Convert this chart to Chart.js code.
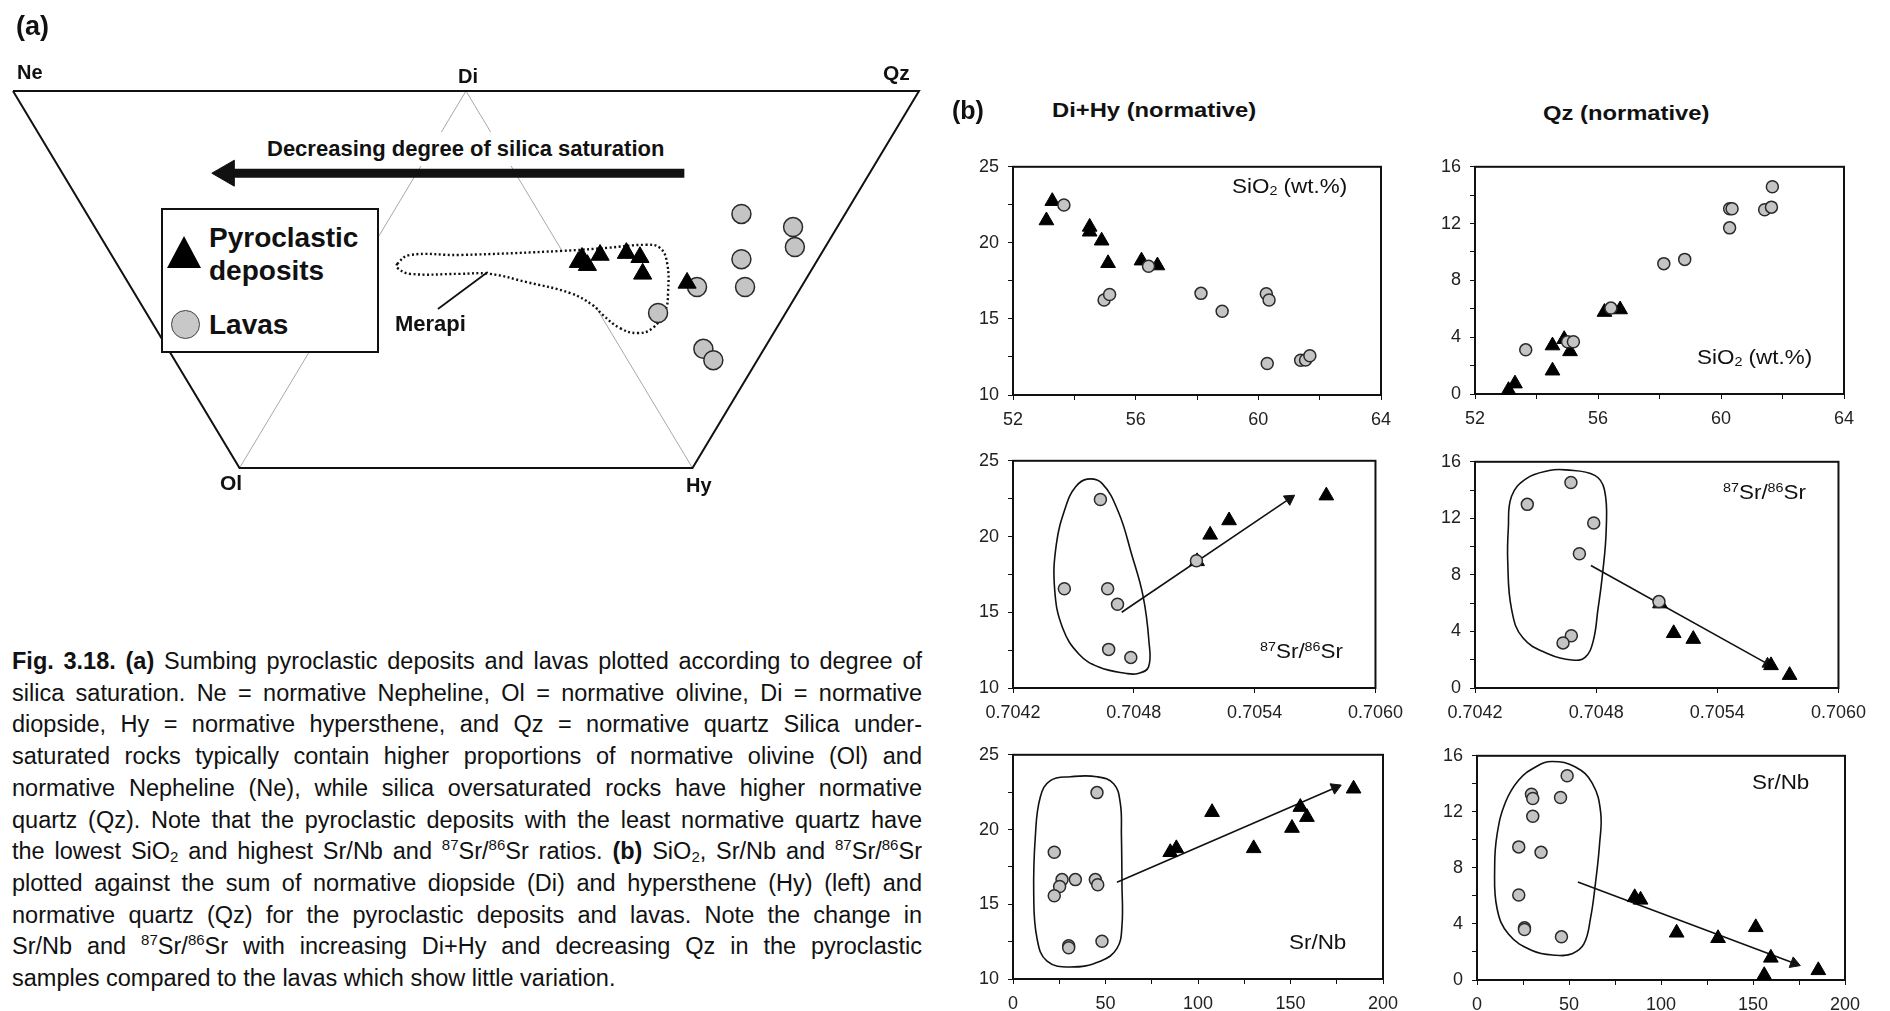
<!DOCTYPE html>
<html>
<head>
<meta charset="utf-8">
<script src="https://cdn.jsdelivr.net/npm/chart.js@4.4.1/dist/chart.umd.min.js"></script>
<style>
  html, body { margin: 0; padding: 0; background: #fff; }
  body { width: 1890px; height: 1011px; position: relative; overflow: hidden;
         font-family: Arial, "Liberation Sans", sans-serif; color: #111; }
  canvas { position: absolute; }
  .lbl { position: absolute; line-height: 1; white-space: nowrap; }
  .lbl sup, #caption sup { font-size: 0.64em; vertical-align: 0.6em; line-height: 0; }
  .lbl sub, #caption sub { font-size: 0.64em; vertical-align: -0.2em; line-height: 0; }
  #legendBox { position: absolute; left: 161px; top: 208px; width: 218px; height: 145px;
               box-sizing: border-box; border: 2px solid #111; background: #fff; }
  .mk-tri { position: absolute; left: 167px; top: 236px; width: 0; height: 0;
            border-left: 17px solid transparent; border-right: 17px solid transparent;
            border-bottom: 32px solid #000; }
  .mk-dot { position: absolute; left: 171px; top: 310px; width: 29px; height: 29px; box-sizing: border-box;
            border: 1.5px solid #444; background: #c8c8c8; border-radius: 50%; }
  #caption { position: absolute; left: 12px; top: 646px; width: 910px; font-size: 23.5px; line-height: 31.7px; }
  #caption div { text-align: justify; text-align-last: justify; }
  #caption div.last { text-align-last: left; }
</style>
</head>
<body>
<canvas id="ternary" width="930" height="500" style="left:0;top:0"></canvas>
<canvas id="p1"></canvas>
<canvas id="p2"></canvas>
<canvas id="p3"></canvas>
<canvas id="p4"></canvas>
<canvas id="p5"></canvas>
<canvas id="p6"></canvas>

<div id="legendBox"></div>
<div class="mk-tri"></div>
<div class="mk-dot"></div>

<div id="caption">
  <div><b>Fig. 3.18. (a)</b> Sumbing pyroclastic deposits and lavas plotted according to degree of</div>
  <div>silica saturation. Ne = normative Nepheline, Ol = normative olivine, Di = normative</div>
  <div>diopside, Hy = normative hypersthene, and Qz = normative quartz Silica under-</div>
  <div>saturated rocks typically contain higher proportions of normative olivine (Ol) and</div>
  <div>normative Nepheline (Ne), while silica oversaturated rocks have higher normative</div>
  <div>quartz (Qz). Note that the pyroclastic deposits with the least normative quartz have</div>
  <div>the lowest SiO<sub>2</sub> and highest Sr/Nb and <sup>87</sup>Sr/<sup>86</sup>Sr ratios. <b>(b)</b> SiO<sub>2</sub>, Sr/Nb and <sup>87</sup>Sr/<sup>86</sup>Sr</div>
  <div>plotted against the sum of normative diopside (Di) and hypersthene (Hy) (left) and</div>
  <div>normative quartz (Qz) for the pyroclastic deposits and lavas. Note the change in</div>
  <div>Sr/Nb and <sup>87</sup>Sr/<sup>86</sup>Sr with increasing Di+Hy and decreasing Qz in the pyroclastic</div>
  <div class="last">samples compared to the lavas which show little variation.</div>
</div>

<script>
// ---- (a) ternary-style diagram, in diagram units:
// x runs 0 (Ne) .. 100 (Qz) along the top edge, y is 100 on the top edge and 0 on the Ol-Hy edge.
const ternFrame = [[0, 100], [100, 100], [75, 0], [25, 0], [0, 100]];
const ternJoins = [[25, 0], [50, 100], [75, 0]];
const ternPyro = [[62.4, 54.6], [62.8, 55.7], [63.4, 53.8], [64.8, 56.5], [67.7, 57.0], [69.2, 55.9], [69.5, 51.5], [74.4, 49.1]];
const ternLava = [[80.4, 67.4], [86.1, 63.9], [86.3, 58.6], [80.4, 55.4], [80.8, 48.0], [75.5, 48.0], [71.2, 41.1], [76.2, 31.6], [77.3, 28.6]];
const merapiField = [[42.4, 54.1], [43.8, 56.5], [49.3, 56.5], [60.7, 57.6], [65.6, 58.4], [69.8, 59.2], [71.4, 58.4], [72.2, 54.4],
  [72.3, 46.4], [72.0, 41.9], [70.6, 37.1], [68.9, 35.8], [67.0, 37.1], [65.1, 40.6], [64.0, 43.2], [61.5, 46.4],
  [56.7, 49.3], [52.6, 51.5], [49.3, 51.5], [43.8, 51.5], [42.4, 53.1]];
const merapiLeader = [[46.9, 42.2], [52.4, 52.0]];
const saturationArrow = [[74.1, 78.2], [23.6, 78.2]];

// ---- (b) panels: [x, y] per sample
const sio2DiHyLava = [[53.66, 22.49], [54.97, 16.25], [55.15, 16.61], [56.42, 18.46], [58.13, 16.68], [58.82, 15.51],
  [60.26, 16.65], [60.35, 16.25], [60.29, 12.07], [61.38, 12.28], [61.54, 12.3], [61.68, 12.58]];
const sio2DiHyPyro = [[53.09, 21.47], [53.28, 22.74], [54.50, 21.05], [54.50, 20.73], [54.89, 20.14], [55.10, 18.66], [56.19, 18.83], [56.71, 18.51]];

const sio2QzLava = [[53.65, 3.11], [55.01, 3.68], [55.20, 3.68], [56.42, 6.05], [58.14, 9.18], [58.82, 9.48],
  [60.28, 13.05], [60.36, 13.05], [60.28, 11.70], [61.42, 12.98], [61.64, 13.16], [61.67, 14.59]];
const sio2QzPyro = [[53.09, 0.27], [53.30, 0.73], [54.52, 3.41], [54.52, 1.64], [54.90, 3.86], [55.09, 3.0], [56.21, 5.77], [56.72, 5.95]];

const srIsoDiHyLava = [[0.704634, 22.45], [0.704455, 16.55], [0.704670, 16.55], [0.704719, 15.53], [0.704675, 12.55], [0.704785, 12.02], [0.705111, 18.40]];
const srIsoDiHyPyro = [[0.705114, 18.36], [0.705179, 20.11], [0.705273, 21.06], [0.705756, 22.70]];
const srIsoDiHyField = [[0.704569, 23.79], [0.704642, 23.51], [0.704724, 21.60], [0.704789, 18.83], [0.704846, 16.06], [0.704875, 13.09],
  [0.704873, 11.38], [0.704821, 10.96], [0.704764, 10.96], [0.704626, 11.38], [0.704528, 12.23], [0.704447, 13.94],
  [0.704407, 16.49], [0.704415, 19.47], [0.704463, 22.02], [0.704512, 23.30]];
const srIsoDiHyTrend = [[0.70474, 15.0], [0.705572, 22.49]];

const srIsoQzLava = [[0.704675, 14.54], [0.704459, 12.99], [0.704788, 11.67], [0.704717, 9.50], [0.705111, 6.11], [0.704677, 3.69], [0.704636, 3.19]];
const srIsoQzPyro = [[0.705116, 5.97], [0.705184, 3.87], [0.705281, 3.46], [0.705666, 1.60], [0.705758, 0.91]];
const srIsoQzField = [[0.704648, 15.43], [0.704793, 15.04], [0.704841, 14.02], [0.704850, 11.28], [0.704830, 7.86], [0.704809, 5.58],
  [0.704785, 3.30], [0.704745, 2.17], [0.704680, 1.98], [0.704567, 2.39], [0.704438, 3.53], [0.704381, 5.58],
  [0.704362, 9.00], [0.704365, 11.28], [0.704381, 13.56], [0.704454, 14.81], [0.704567, 15.38]];
const srIsoQzTrend = [[0.704774, 8.66], [0.705649, 1.71]];

const srNbDiHyLava = [[45.4, 22.47], [22.3, 18.48], [26.5, 16.65], [25.2, 16.19], [33.7, 16.65], [44.5, 16.65],
  [45.8, 16.30], [22.3, 15.57], [30.1, 12.22], [30.1, 12.09], [48.1, 12.52]];
const srNbDiHyPyro = [[85.0, 18.48], [88.3, 18.74], [107.6, 21.16], [130.1, 18.74], [150.8, 20.10], [155.3, 21.50], [158.9, 20.83], [184.1, 22.73]];
const srNbDiHyField = [[31.0, 23.53], [45.4, 23.53], [54.4, 23.06], [58.0, 21.76], [58.6, 19.60], [58.9, 16.37], [58.9, 13.56],
  [56.2, 12.05], [47.2, 11.19], [31.0, 10.80], [18.4, 11.19], [13.0, 12.70], [11.2, 15.72], [12.1, 19.60], [14.8, 22.19], [20.2, 23.27]];
const srNbDiHyTrend = [[56.2, 16.47], [174.2, 22.8]];

const srNbQzLava = [[49.0, 14.58], [29.6, 13.25], [30.3, 12.95], [45.4, 13.02], [30.3, 11.68], [22.7, 9.50],
  [34.8, 9.11], [22.7, 6.06], [25.8, 3.72], [25.8, 3.60], [45.9, 3.08]];
const srNbQzPyro = [[85.7, 5.90], [88.9, 5.72], [108.5, 3.37], [131.0, 2.98], [151.5, 3.76], [156.1, 0.34], [159.7, 1.58], [185.5, 0.69]];
const srNbQzField = [[40.8, 15.59], [53.5, 15.20], [62.6, 14.05], [67.2, 11.98], [66.6, 9.69], [64.4, 6.93], [61.7, 4.41],
  [58.1, 2.57], [51.7, 1.88], [42.6, 1.77], [29.9, 2.11], [17.2, 3.26], [10.9, 5.10], [9.6, 8.08], [10.9, 10.38],
  [15.4, 12.67], [22.7, 14.28], [31.8, 15.20]];
const srNbQzTrend = [[54.8, 7.0], [172.4, 1.19]];

// axis ticks (blank label = tick mark only)
const sio2Ticks = [52, 54, 56, 58, 60, 62, 64];
const sio2Labels = ['52', '', '56', '', '60', '', '64'];
const srIsoTicks = [0.7042, 0.7048, 0.7054, 0.7060];
const srIsoLabels = ['0.7042', '0.7048', '0.7054', '0.7060'];
const srNbTicks = [0, 25, 50, 75, 100, 125, 150, 175, 200];
const srNbLabels = ['0', '', '50', '', '100', '', '150', '', '200'];
const diHyTicks = [10, 12.5, 15, 17.5, 20, 22.5, 25];
const diHyLabels = ['10', '', '15', '', '20', '', '25'];
const qzTicks = [0, 2, 4, 6, 8, 10, 12, 14, 16];
const qzLabels = ['0', '', '4', '', '8', '', '12', '', '16'];

Chart.defaults.font.family = 'Arial, "Liberation Sans", sans-serif';
Chart.defaults.animation = false;

const xy = (pts) => pts.map(([x, y]) => ({ x, y }));

// rotate a triangle point so it points along the segment that ends in it
function headRotation(ctx) {
  const pts = ctx.dataset.data;
  const i = ctx.dataIndex;
  const sc = ctx.chart.scales;
  if (!i || !sc.x) return 0;
  const dx = sc.x.getPixelForValue(pts[i].x) - sc.x.getPixelForValue(pts[i - 1].x);
  const dy = sc.y.getPixelForValue(pts[i].y) - sc.y.getPixelForValue(pts[i - 1].y);
  return Math.atan2(dy, dx) * 180 / Math.PI + 90;
}

// closed smooth curve: wrap one point each side, hide the two helper segments
function loopSet(pts, extra) {
  const n = pts.length;
  const color = extra.borderColor || '#111';
  return Object.assign({
    data: xy([pts[n - 1], ...pts, pts[0], pts[1]]),
    showLine: true,
    pointRadius: 0,
    borderWidth: 1.6,
    tension: 0.42,
    fill: false,
    segment: {
      borderColor: (c) => (c.p0DataIndex === 0 || c.p0DataIndex === n + 1 ? 'rgba(0,0,0,0)' : color)
    }
  }, extra);
}

function lavaSet(pts, r) {
  return { data: xy(pts), pointStyle: 'circle', pointRadius: r, pointBackgroundColor: '#c4c4c4',
    pointBorderColor: '#2a2a2a', pointBorderWidth: 1.5, clip: false };
}

function pyroSet(pts, r) {
  return { data: xy(pts), pointStyle: 'triangle', pointRadius: r, pointBackgroundColor: '#000',
    pointBorderColor: '#000', pointBorderWidth: 1, clip: false };
}

function arrowSet(pts, width, head) {
  return { data: xy(pts), showLine: true, borderColor: '#111', borderWidth: width,
    pointStyle: 'triangle', pointRadius: [0, head], pointBackgroundColor: '#111', pointBorderColor: '#111',
    pointBorderWidth: 1, pointRotation: headRotation, clip: false };
}

const frameBox = {
  id: 'frameBox',
  beforeDatasetsDraw(chart) {
    const { ctx, chartArea: a } = chart;
    ctx.save();
    ctx.strokeStyle = '#111';
    ctx.lineWidth = 2;
    ctx.strokeRect(a.left, a.top, a.width, a.height);
    ctx.restore();
  }
};

const baseOptions = {
  responsive: false,
  events: [],
  plugins: { legend: { display: false }, tooltip: { enabled: false } }
};

// ---- (a)
new Chart(document.getElementById('ternary'), {
  type: 'scatter',
  data: {
    datasets: [
      pyroSet(ternPyro, 10.5),
      lavaSet(ternLava, 9.5),
      arrowSet(saturationArrow, 9, 15),
      { data: xy(merapiLeader), showLine: true, pointRadius: 0, borderColor: '#111', borderWidth: 1.8 },
      loopSet(merapiField, { borderColor: '#111', borderWidth: 2.4, borderDash: [2, 2.5], fill: 'shape', backgroundColor: '#fff' }),
      { data: xy(ternFrame), showLine: true, pointRadius: 0, borderColor: '#111', borderWidth: 2 },
      { data: xy(ternJoins), showLine: true, pointRadius: 0, borderColor: '#a8a8a8', borderWidth: 1 }
    ]
  },
  options: Object.assign({}, baseOptions, {
    layout: { padding: 0, autoPadding: false },
    scales: {
      x: { type: 'linear', display: false, min: -1.435, max: 101.214 },
      y: { type: 'linear', display: false, min: -8.488, max: 124.138 }
    }
  })
});

// ---- (b)
const Y_AXIS_W = 60, X_AXIS_H = 36, PAD = { top: 12, right: 30, bottom: 4, left: 0 };

function tickAxis(values, labels, fit) {
  return {
    type: 'linear',
    min: values[0],
    max: values[values.length - 1],
    afterBuildTicks: (axis) => { axis.ticks = values.map((v) => ({ value: v })); },
    afterFit: fit,
    ticks: { autoSkip: false, maxRotation: 0, color: '#222', font: { size: 18 }, padding: 9,
      callback: (v, i) => labels[i] },
    grid: { drawOnChartArea: false, drawTicks: true, tickLength: 5, color: '#111', lineWidth: 1 },
    border: { display: false }
  };
}

function makePanel(id, box, xTicks, xLabels, yTicks, yLabels, datasets) {
  const [L, T, R, B] = box;
  const cv = document.getElementById(id);
  cv.width = (R - L) + Y_AXIS_W + PAD.right + PAD.left;
  cv.height = (B - T) + PAD.top + X_AXIS_H + PAD.bottom;
  cv.style.left = (L - Y_AXIS_W - PAD.left) + 'px';
  cv.style.top = (T - PAD.top) + 'px';
  return new Chart(cv, {
    type: 'scatter',
    data: { datasets },
    options: Object.assign({}, baseOptions, {
      layout: { padding: PAD, autoPadding: false },
      scales: {
        x: tickAxis(xTicks, xLabels, (s) => { s.height = X_AXIS_H; }),
        y: tickAxis(yTicks, yLabels, (s) => { s.width = Y_AXIS_W; })
      }
    }),
    plugins: [frameBox]
  });
}

const LAVA_R = 6, PYRO_R = 8.5, HEAD_R = 6.5;
const fieldStyle = { borderColor: '#111', borderWidth: 1.6 };

makePanel('p1', [1013, 159, 1381, 395], sio2Ticks, sio2Labels, diHyTicks, diHyLabels, [
  lavaSet(sio2DiHyLava, LAVA_R), pyroSet(sio2DiHyPyro, PYRO_R)
]);
makePanel('p2', [1475, 159, 1844, 394], sio2Ticks, sio2Labels, qzTicks, qzLabels, [
  lavaSet(sio2QzLava, LAVA_R), pyroSet(sio2QzPyro, PYRO_R)
]);
makePanel('p3', [1013, 453, 1382, 688], srIsoTicks, srIsoLabels, diHyTicks, diHyLabels, [
  lavaSet(srIsoDiHyLava, LAVA_R), pyroSet(srIsoDiHyPyro, PYRO_R),
  arrowSet(srIsoDiHyTrend, 1.6, HEAD_R), loopSet(srIsoDiHyField, fieldStyle)
]);
makePanel('p4', [1475, 454, 1845, 688], srIsoTicks, srIsoLabels, qzTicks, qzLabels, [
  lavaSet(srIsoQzLava, LAVA_R), pyroSet(srIsoQzPyro, PYRO_R),
  arrowSet(srIsoQzTrend, 1.6, HEAD_R), loopSet(srIsoQzField, fieldStyle)
]);
makePanel('p5', [1013, 747, 1383, 979], srNbTicks, srNbLabels, diHyTicks, diHyLabels, [
  lavaSet(srNbDiHyLava, LAVA_R), pyroSet(srNbDiHyPyro, PYRO_R),
  arrowSet(srNbDiHyTrend, 1.6, HEAD_R), loopSet(srNbDiHyField, fieldStyle)
]);
makePanel('p6', [1477, 748, 1845, 980], srNbTicks, srNbLabels, qzTicks, qzLabels, [
  lavaSet(srNbQzLava, LAVA_R), pyroSet(srNbQzPyro, PYRO_R),
  arrowSet(srNbQzTrend, 1.6, HEAD_R), loopSet(srNbQzField, fieldStyle)
]);

// ---- text
function addLabel(html, left, cy, size, opts = {}) {
  const d = document.createElement('div');
  d.className = 'lbl';
  d.innerHTML = html;
  const pad = opts.pad || 0;
  d.style.left = (left - pad) + 'px';
  d.style.top = (cy - size / 2 - pad) + 'px';
  d.style.fontSize = size + 'px';
  if (opts.bold) d.style.fontWeight = 'bold';
  if (opts.bg) { d.style.background = opts.bg; d.style.padding = pad + 'px'; }
  if (opts.stretch) { d.style.transform = 'scaleX(' + opts.stretch + ')'; d.style.transformOrigin = 'left center'; }
  document.body.appendChild(d);
}

addLabel('(a)', 16, 26, 27, { bold: true });
addLabel('Ne', 17, 72, 20, { bold: true });
addLabel('Di', 458, 76, 20, { bold: true });
addLabel('Qz', 883, 72, 21, { bold: true });
addLabel('Ol', 220, 482, 21, { bold: true });
addLabel('Hy', 686, 485, 20, { bold: true });
addLabel('Decreasing degree of silica saturation', 267, 149, 22, { bold: true, bg: '#fff', pad: 6 });
addLabel('Merapi', 395, 324, 22, { bold: true });
addLabel('Pyroclastic', 209, 238, 28, { bold: true });
addLabel('deposits', 209, 271, 28, { bold: true });
addLabel('Lavas', 209, 325, 28, { bold: true });

addLabel('(b)', 952, 110, 25, { bold: true });
addLabel('Di+Hy (normative)', 1052, 110, 20.5, { bold: true, stretch: 1.16 });
addLabel('Qz (normative)', 1543, 113, 20.5, { bold: true, stretch: 1.16 });
addLabel('SiO<sub>2</sub> (wt.%)', 1232, 187, 19.5, { stretch: 1.15 });
addLabel('SiO<sub>2</sub> (wt.%)', 1697, 358, 19.5, { stretch: 1.15 });
addLabel('<sup>87</sup>Sr/<sup>86</sup>Sr', 1260, 652, 19.5, { stretch: 1.15 });
addLabel('<sup>87</sup>Sr/<sup>86</sup>Sr', 1723, 493, 19.5, { stretch: 1.15 });
addLabel('Sr/Nb', 1289, 943, 19.5, { stretch: 1.15 });
addLabel('Sr/Nb', 1752, 783, 19.5, { stretch: 1.15 });
</script>
</body>
</html>
